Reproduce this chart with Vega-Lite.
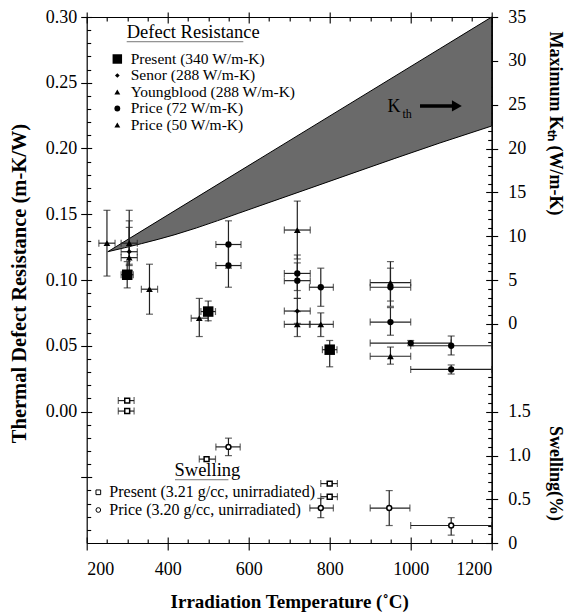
{
"$schema": "https://vega.github.io/schema/vega-lite/v6.json",
"width": 405, "height": 526,
"autosize": {"type": "none"},
"padding": {"left": 86.7, "top": 17, "right": 76.3, "bottom": 70},
"config": {
  "font": "Liberation Serif",
  "view": {"stroke": null},
  "axis": {"domainColor": "black", "tickColor": "black", "labelColor": "black", "titleColor": "black", "domainWidth": 1.2, "tickWidth": 1.1, "grid": false, "labelFont": "Liberation Serif", "titleFont": "Liberation Serif", "labelFontSize": 18, "titleFontSize": 19, "titleFontWeight": "bold"}
},
"datasets": {
  "band": [
    {"T": 252, "up": 0.1215, "lo": 0.1215},
    {"T": 418, "up": 0.1528, "lo": 0.1345},
    {"T": 628, "up": 0.1923, "lo": 0.1565},
    {"T": 850, "up": 0.2341, "lo": 0.1805},
    {"T": 1072, "up": 0.2759, "lo": 0.2042},
    {"T": 1200, "up": 0.30, "lo": 0.2171}
  ],
  "defect": [
    {"s": "Youngblood", "T": 250, "R": 0.128, "xlo": 230, "xhi": 270, "ylo": 0.103, "yhi": 0.153},
    {"s": "Youngblood", "T": 305, "R": 0.128, "xlo": 285, "xhi": 325, "ylo": 0.112, "yhi": 0.153},
    {"s": "Senor", "T": 305, "R": 0.1215, "xlo": 285, "xhi": 325, "ylo": 0.111, "yhi": 0.145},
    {"s": "Youngblood", "T": 305, "R": 0.117, "xlo": 285, "xhi": 325, "ylo": 0.107, "yhi": 0.140},
    {"s": "Present", "T": 300, "R": 0.104, "xlo": 285, "xhi": 315, "ylo": 0.094, "yhi": 0.114},
    {"s": "Youngblood", "T": 355, "R": 0.093, "xlo": 335, "xhi": 375, "ylo": 0.074, "yhi": 0.112},
    {"s": "Price72", "T": 550, "R": 0.127, "xlo": 519, "xhi": 581, "ylo": 0.109, "yhi": 0.145},
    {"s": "Price72", "T": 550, "R": 0.111, "xlo": 519, "xhi": 581, "ylo": 0.0945, "yhi": 0.127},
    {"s": "Present", "T": 500, "R": 0.076, "xlo": 482, "xhi": 518, "ylo": 0.069, "yhi": 0.084},
    {"s": "Price50", "T": 478, "R": 0.071, "xlo": 458, "xhi": 500, "ylo": 0.057, "yhi": 0.086},
    {"s": "Price50", "T": 720, "R": 0.138, "xlo": 688, "xhi": 752, "ylo": 0.116, "yhi": 0.160},
    {"s": "Price72", "T": 720, "R": 0.105, "xlo": 688, "xhi": 752, "ylo": 0.092, "yhi": 0.119},
    {"s": "Price72", "T": 720, "R": 0.0995, "xlo": 688, "xhi": 752, "ylo": 0.086, "yhi": 0.113},
    {"s": "Senor", "T": 720, "R": 0.0764, "xlo": 688, "xhi": 752, "ylo": 0.067, "yhi": 0.086},
    {"s": "Price50", "T": 720, "R": 0.0663, "xlo": 688, "xhi": 752, "ylo": 0.057, "yhi": 0.076},
    {"s": "Price72", "T": 778, "R": 0.0945, "xlo": 750, "xhi": 809, "ylo": 0.080, "yhi": 0.109},
    {"s": "Price50", "T": 778, "R": 0.0663, "xlo": 750, "xhi": 809, "ylo": 0.057, "yhi": 0.075},
    {"s": "Present", "T": 800, "R": 0.047, "xlo": 782, "xhi": 818, "ylo": 0.034, "yhi": 0.054},
    {"s": "Price50", "T": 950, "R": 0.098, "xlo": 900, "xhi": 1000, "ylo": 0.084, "yhi": 0.114},
    {"s": "Price72", "T": 950, "R": 0.0945, "xlo": 900, "xhi": 1000, "ylo": 0.080, "yhi": 0.109},
    {"s": "Price72", "T": 950, "R": 0.068, "xlo": 900, "xhi": 1000, "ylo": 0.058, "yhi": 0.079},
    {"s": "Price50", "T": 950, "R": 0.042, "xlo": 900, "xhi": 1000, "ylo": 0.036, "yhi": 0.049},
    {"s": "Price72", "T": 1000, "R": 0.052, "xlo": 900, "xhi": 1100, "ylo": 0.050, "yhi": 0.054},
    {"s": "Price72", "T": 1100, "R": 0.050, "xlo": 1000, "xhi": 1200, "ylo": 0.043, "yhi": 0.0574},
    {"s": "Price72", "T": 1100, "R": 0.032, "xlo": 1000, "xhi": 1200, "ylo": 0.0285, "yhi": 0.0354}
  ],
  "swell": [
    {"s": "PresentS", "T": 300, "S": 1.63, "xlo": 278, "xhi": 317},
    {"s": "PresentS", "T": 300, "S": 1.51, "xlo": 278, "xhi": 317},
    {"s": "PriceS", "T": 550, "S": 1.10, "xlo": 519, "xhi": 579, "ylo": 1.0, "yhi": 1.2},
    {"s": "PresentS", "T": 496, "S": 0.96, "xlo": 478, "xhi": 518},
    {"s": "PresentS", "T": 800, "S": 0.68, "xlo": 778, "xhi": 819},
    {"s": "PresentS", "T": 800, "S": 0.53, "xlo": 778, "xhi": 819},
    {"s": "PriceS", "T": 778, "S": 0.40, "xlo": 751, "xhi": 809, "ylo": 0.29, "yhi": 0.51},
    {"s": "PriceS", "T": 947, "S": 0.40, "xlo": 900, "xhi": 998, "ylo": 0.20, "yhi": 0.60},
    {"s": "PriceS", "T": 1100, "S": 0.20, "xlo": 1000, "xhi": 1200, "ylo": 0.09, "yhi": 0.29}
  ],
  "leg1": [
    {"i": 0, "s": "Present", "label": "Present (340 W/m-K)"},
    {"i": 1, "s": "Senor", "label": "Senor (288 W/m-K)"},
    {"i": 2, "s": "Youngblood", "label": "Youngblood (288 W/m-K)"},
    {"i": 3, "s": "Price72", "label": "Price (72 W/m-K)"},
    {"i": 4, "s": "Price50", "label": "Price (50 W/m-K)"}
  ],
  "leg2": [
    {"i": 0, "s": "PresentS", "label": "Present (3.21 g/cc, unirradiated)"},
    {"i": 1, "s": "PriceS", "label": "Price (3.20 g/cc, unirradiated)"}
  ],
  "one": [{"k": 1}]
},
"resolve": {"scale": {"x": "independent", "y": "independent", "shape": "independent"}},
"layer": [
  {"data": {"name": "band"}, "mark": {"type": "area", "fill": "#6a6a6a", "stroke": "black", "strokeWidth": 1, "opacity": 1, "interpolate": "monotone"},
   "encoding": {"x": {"field": "T", "type": "quantitative", "scale": {"domain": [200, 1200], "nice": false, "zero": false}, "axis": null},
     "y": {"field": "up", "type": "quantitative", "scale": {"domain": [-0.1, 0.3], "nice": false, "zero": false}, "axis": null},
     "y2": {"field": "lo"}}},
  {"data": {"name": "defect"},
   "encoding": {"x": {"field": "T", "type": "quantitative", "scale": {"domain": [200, 1200], "nice": false, "zero": false}, "axis": null},
     "y": {"field": "R", "type": "quantitative", "scale": {"domain": [-0.1, 0.3], "nice": false, "zero": false}, "axis": null}},
   "layer": [
     {"mark": {"type": "rule", "color": "#222", "strokeWidth": 1.2}, "encoding": {"x": {"field": "xlo", "type": "quantitative"}, "x2": {"field": "xhi"}}},
     {"mark": {"type": "rule", "color": "#222", "strokeWidth": 1.2}, "encoding": {"y": {"field": "ylo", "type": "quantitative"}, "y2": {"field": "yhi"}}},
     {"mark": {"type": "tick", "orient": "vertical", "color": "#222", "size": 7, "thickness": 1.2}, "encoding": {"x": {"field": "xlo", "type": "quantitative"}}},
     {"mark": {"type": "tick", "orient": "vertical", "color": "#222", "size": 7, "thickness": 1.2}, "encoding": {"x": {"field": "xhi", "type": "quantitative"}}},
     {"mark": {"type": "tick", "orient": "horizontal", "color": "#222", "size": 7, "thickness": 1.2}, "encoding": {"y": {"field": "ylo", "type": "quantitative"}}},
     {"mark": {"type": "tick", "orient": "horizontal", "color": "#222", "size": 7, "thickness": 1.2}, "encoding": {"y": {"field": "yhi", "type": "quantitative"}}},
     {"mark": {"type": "point", "filled": true, "color": "black", "opacity": 1},
      "encoding": {"shape": {"field": "s", "type": "nominal", "scale": {"domain": ["Present", "Senor", "Youngblood", "Price72", "Price50"], "range": ["square", "diamond", "triangle-up", "circle", "triangle-up"]}, "legend": null},
        "size": {"condition": [{"test": "datum.s === 'Present'", "value": 110}, {"test": "datum.s === 'Senor'", "value": 28}, {"test": "datum.s === 'Price72'", "value": 40}], "value": 45}}}
   ]},
  {"data": {"name": "swell"},
   "encoding": {"x": {"field": "T", "type": "quantitative", "scale": {"domain": [200, 1200], "nice": false, "zero": false}, "axis": null},
     "y": {"field": "S", "type": "quantitative", "scale": {"domain": [0, 6.02], "nice": false, "zero": false}, "axis": null}},
   "layer": [
     {"mark": {"type": "rule", "color": "#222", "strokeWidth": 1.2}, "encoding": {"x": {"field": "xlo", "type": "quantitative"}, "x2": {"field": "xhi"}}},
     {"mark": {"type": "rule", "color": "#222", "strokeWidth": 1.2}, "encoding": {"y": {"field": "ylo", "type": "quantitative"}, "y2": {"field": "yhi"}}},
     {"mark": {"type": "tick", "orient": "vertical", "color": "#222", "size": 7, "thickness": 1.2}, "encoding": {"x": {"field": "xlo", "type": "quantitative"}}},
     {"mark": {"type": "tick", "orient": "vertical", "color": "#222", "size": 7, "thickness": 1.2}, "encoding": {"x": {"field": "xhi", "type": "quantitative"}}},
     {"mark": {"type": "tick", "orient": "horizontal", "color": "#222", "size": 7, "thickness": 1.2}, "encoding": {"y": {"field": "ylo", "type": "quantitative"}}},
     {"mark": {"type": "tick", "orient": "horizontal", "color": "#222", "size": 7, "thickness": 1.2}, "encoding": {"y": {"field": "yhi", "type": "quantitative"}}},
     {"mark": {"type": "point", "filled": false, "color": "black", "fill": "white", "fillOpacity": 1, "strokeWidth": 1.5, "opacity": 1, "size": 24},
      "encoding": {"shape": {"field": "s", "type": "nominal", "scale": {"domain": ["PresentS", "PriceS"], "range": ["square", "circle"]}, "legend": null}}}
   ]},
  {"data": {"name": "leg1"},
   "encoding": {"y": {"field": "i", "type": "quantitative", "scale": {"domain": [-2.545, 29.333], "reverse": true, "nice": false, "zero": false}, "axis": null}},
   "layer": [
     {"mark": {"type": "point", "filled": true, "color": "black", "opacity": 1},
      "encoding": {"x": {"datum": 275.6, "type": "quantitative", "scale": {"domain": [200, 1200], "nice": false, "zero": false}, "axis": null},
        "shape": {"field": "s", "type": "nominal", "scale": {"domain": ["Present", "Senor", "Youngblood", "Price72", "Price50"], "range": ["square", "diamond", "triangle-up", "circle", "triangle-up"]}, "legend": null},
        "size": {"condition": [{"test": "datum.s === 'Present'", "value": 90}, {"test": "datum.s === 'Senor'", "value": 22}, {"test": "datum.s === 'Price72'", "value": 34}], "value": 34}}},
     {"mark": {"type": "text", "align": "left", "baseline": "middle", "fontSize": 15.5, "font": "Liberation Serif", "color": "black"},
      "encoding": {"x": {"datum": 308.6, "type": "quantitative", "scale": {"domain": [200, 1200], "nice": false, "zero": false}, "axis": null},
        "text": {"field": "label"}}}
   ]},
  {"data": {"name": "leg2"},
   "encoding": {"y": {"field": "i", "type": "quantitative", "scale": {"domain": [-26.853, 2.865], "reverse": true, "nice": false, "zero": false}, "axis": null}},
   "layer": [
     {"mark": {"type": "point", "filled": false, "color": "black", "strokeWidth": 1, "opacity": 1, "size": 22},
      "encoding": {"x": {"datum": 228.7, "type": "quantitative", "scale": {"domain": [200, 1200], "nice": false, "zero": false}, "axis": null},
        "shape": {"field": "s", "type": "nominal", "scale": {"domain": ["PresentS", "PriceS"], "range": ["square", "circle"]}, "legend": null}}},
     {"mark": {"type": "text", "align": "left", "baseline": "middle", "fontSize": 16, "font": "Liberation Serif", "color": "black"},
      "encoding": {"x": {"datum": 255.8, "type": "quantitative", "scale": {"domain": [200, 1200], "nice": false, "zero": false}, "axis": null},
        "text": {"field": "label"}}}
   ]},
  {"data": {"name": "one"},
   "encoding": {"x": {"datum": 463, "type": "quantitative", "scale": {"domain": [200, 1200], "nice": false, "zero": false}, "axis": null},
     "y": {"datum": 0.2843, "type": "quantitative", "scale": {"domain": [-0.1, 0.3], "nice": false, "zero": false}, "axis": null}},
   "layer": [
     {"mark": {"type": "text", "text": "Defect Resistance", "align": "center", "baseline": "alphabetic", "fontSize": 18.5, "font": "Liberation Serif", "color": "black"}},
     {"mark": {"type": "text", "text": "Swelling", "align": "center", "baseline": "alphabetic", "fontSize": 18.5, "font": "Liberation Serif", "color": "black"},
      "encoding": {"x": {"datum": 498, "type": "quantitative"}, "y": {"datum": -0.0494, "type": "quantitative"}}},
     {"mark": {"type": "rule", "color": "#777", "strokeWidth": 1},
      "encoding": {"x": {"datum": 298.8, "type": "quantitative"}, "x2": {"datum": 586.7}, "y": {"datum": 0.2812, "type": "quantitative"}}},
     {"mark": {"type": "rule", "color": "#777", "strokeWidth": 1},
      "encoding": {"x": {"datum": 418, "type": "quantitative"}, "x2": {"datum": 550}, "y": {"datum": -0.0519, "type": "quantitative"}}},
     {"mark": {"type": "text", "text": "K", "align": "center", "baseline": "middle", "fontSize": 18, "font": "Liberation Serif", "color": "black"},
      "encoding": {"x": {"datum": 958.6, "type": "quantitative"}, "y": {"datum": 0.2316, "type": "quantitative"}}},
     {"mark": {"type": "text", "text": "th", "align": "center", "baseline": "middle", "fontSize": 12, "font": "Liberation Serif", "color": "black"},
      "encoding": {"x": {"datum": 991, "type": "quantitative"}, "y": {"datum": 0.2263, "type": "quantitative"}}},
     {"mark": {"type": "rule", "color": "black", "strokeWidth": 3.5},
      "encoding": {"x": {"datum": 1023, "type": "quantitative"}, "x2": {"datum": 1104}, "y": {"datum": 0.2324, "type": "quantitative"}}},
     {"mark": {"type": "point", "shape": "triangle-right", "filled": true, "color": "black", "opacity": 1, "size": 130},
      "encoding": {"x": {"datum": 1114, "type": "quantitative"}, "y": {"datum": 0.2324, "type": "quantitative"}}}
   ]},
  {"data": {"name": "one"}, "mark": {"type": "point", "opacity": 0},
   "encoding": {"y": {"field": "none", "type": "quantitative", "scale": {"domain": [-0.1, 0.3], "nice": false, "zero": false},
     "axis": {"orient": "left", "values": [-0.05, 0, 0.05, 0.1, 0.15, 0.2, 0.25, 0.3], "labelExpr": "datum.value < -0.001 ? '' : format(datum.value, '.2f')", "tickSize": 6, "labelPadding": 4, "title": "Thermal Defect Resistance (m-K/W)", "titleFontSize": 20.5, "titleAngle": -90, "titleX": -61, "titleY": 266, "titleBaseline": "alphabetic"}}}},
  {"data": {"name": "one"}, "mark": {"type": "point", "opacity": 0},
   "encoding": {"y": {"field": "none", "type": "quantitative", "scale": {"domain": [-0.1, 0.3], "nice": false, "zero": false},
     "axis": {"orient": "left", "values": [-0.05, 0, 0.05, 0.1, 0.15, 0.2, 0.25, 0.3], "tickSize": -5, "labels": false, "domain": false, "title": null}}}},
  {"data": {"name": "one"}, "mark": {"type": "point", "opacity": 0},
   "encoding": {"y": {"field": "none", "type": "quantitative", "scale": {"domain": [-0.1, 0.3], "nice": false, "zero": false},
     "axis": {"orient": "left", "values": [-0.09, -0.08, -0.07, -0.06, -0.04, -0.03, -0.02, -0.01, 0.01, 0.02, 0.03, 0.04, 0.06, 0.07, 0.08, 0.09, 0.11, 0.12, 0.13, 0.14, 0.16, 0.17, 0.18, 0.19, 0.21, 0.22, 0.23, 0.24, 0.26, 0.27, 0.28, 0.29], "tickSize": -4, "labels": false, "domain": false, "title": null}}}},
  {"data": {"name": "one"}, "mark": {"type": "point", "opacity": 0},
   "encoding": {"x": {"field": "none", "type": "quantitative", "scale": {"domain": [200, 1200], "nice": false, "zero": false},
     "axis": {"orient": "bottom", "values": [200, 400, 600, 800, 1000, 1200], "format": "d", "tickSize": 7, "labelPadding": 10, "title": "Irradiation Temperature (˚C)", "titleFontSize": 19, "titleY": 64, "titleBaseline": "alphabetic"}}}},
  {"data": {"name": "one"}, "mark": {"type": "point", "opacity": 0},
   "encoding": {"x": {"field": "none", "type": "quantitative", "scale": {"domain": [200, 1200], "nice": false, "zero": false},
     "axis": {"orient": "bottom", "values": [200, 400, 600, 800, 1000, 1200], "tickSize": -6, "labels": false, "domain": false, "title": null}}}},
  {"data": {"name": "one"}, "mark": {"type": "point", "opacity": 0},
   "encoding": {"x": {"field": "none", "type": "quantitative", "scale": {"domain": [200, 1200], "nice": false, "zero": false},
     "axis": {"orient": "bottom", "values": [250, 300, 350, 450, 500, 550, 650, 700, 750, 850, 900, 950, 1050, 1100, 1150], "tickSize": -4, "labels": false, "domain": false, "title": null}}}},
  {"data": {"name": "one"}, "mark": {"type": "point", "opacity": 0},
   "encoding": {"x": {"field": "none", "type": "quantitative", "scale": {"domain": [200, 1200], "nice": false, "zero": false},
     "axis": {"orient": "top", "values": [200, 400, 600, 800, 1000, 1200], "tickSize": 5, "labels": false, "domain": true, "title": null}}}},
  {"data": {"name": "one"}, "mark": {"type": "point", "opacity": 0},
   "encoding": {"x": {"field": "none", "type": "quantitative", "scale": {"domain": [200, 1200], "nice": false, "zero": false},
     "axis": {"orient": "top", "values": [200, 400, 600, 800, 1000, 1200], "tickSize": -6, "labels": false, "domain": false, "title": null}}}},
  {"data": {"name": "one"}, "mark": {"type": "point", "opacity": 0},
   "encoding": {"x": {"field": "none", "type": "quantitative", "scale": {"domain": [200, 1200], "nice": false, "zero": false},
     "axis": {"orient": "top", "values": [250, 300, 350, 450, 500, 550, 650, 700, 750, 850, 900, 950, 1050, 1100, 1150], "tickSize": -4, "labels": false, "domain": false, "title": null}}}},
  {"data": {"name": "one"}, "mark": {"type": "point", "opacity": 0},
   "encoding": {"y": {"field": "none", "type": "quantitative", "scale": {"domain": [-24.97, 35], "nice": false, "zero": false},
     "axis": {"orient": "right", "values": [0, 5, 10, 15, 20, 25, 30, 35], "format": "d", "tickSize": 6, "labelPadding": 10, "title": "Maximum Kₜₕ (W/m-K)", "titleFontSize": 18, "titleAngle": 90, "titleX": 58, "titleY": 106, "titleBaseline": "alphabetic"}}}},
  {"data": {"name": "one"}, "mark": {"type": "point", "opacity": 0},
   "encoding": {"y": {"field": "none", "type": "quantitative", "scale": {"domain": [-24.97, 35], "nice": false, "zero": false},
     "axis": {"orient": "right", "values": [0, 5, 10, 15, 20, 25, 30, 35], "tickSize": -6, "labels": false, "domain": false, "title": null}}}},
  {"data": {"name": "one"}, "mark": {"type": "point", "opacity": 0},
   "encoding": {"y": {"field": "none", "type": "quantitative", "scale": {"domain": [-24.97, 35], "nice": false, "zero": false},
     "axis": {"orient": "right", "values": [-2, -1, 1, 2, 3, 4, 6, 7, 8, 9, 11, 12, 13, 14, 16, 17, 18, 19, 21, 22, 23, 24, 26, 27, 28, 29, 31, 32, 33, 34], "tickSize": -4, "labels": false, "domain": false, "title": null}}}},
  {"data": {"name": "one"}, "mark": {"type": "point", "opacity": 0},
   "encoding": {"y": {"field": "none", "type": "quantitative", "scale": {"domain": [0, 6.02], "nice": false, "zero": false},
     "axis": {"orient": "right", "values": [0, 0.5, 1, 1.5], "labelExpr": "datum.value == 0 ? '0' : format(datum.value, '.1f')", "tickSize": 6, "labelPadding": 10, "title": "Swelling(%)", "titleFontSize": 18, "titleAngle": 90, "titleX": 58, "titleY": 456, "titleBaseline": "alphabetic"}}}},
  {"data": {"name": "one"}, "mark": {"type": "point", "opacity": 0},
   "encoding": {"y": {"field": "none", "type": "quantitative", "scale": {"domain": [0, 6.02], "nice": false, "zero": false},
     "axis": {"orient": "right", "values": [0, 0.5, 1, 1.5], "tickSize": -6, "labels": false, "domain": false, "title": null}}}},
  {"data": {"name": "one"}, "mark": {"type": "point", "opacity": 0},
   "encoding": {"y": {"field": "none", "type": "quantitative", "scale": {"domain": [0, 6.02], "nice": false, "zero": false},
     "axis": {"orient": "right", "values": [0.1, 0.2, 0.3, 0.4, 0.6, 0.7, 0.8, 0.9, 1.1, 1.2, 1.3, 1.4, 1.6, 1.7, 1.8, 1.9], "tickSize": -4, "labels": false, "domain": false, "title": null}}}}
]
}
